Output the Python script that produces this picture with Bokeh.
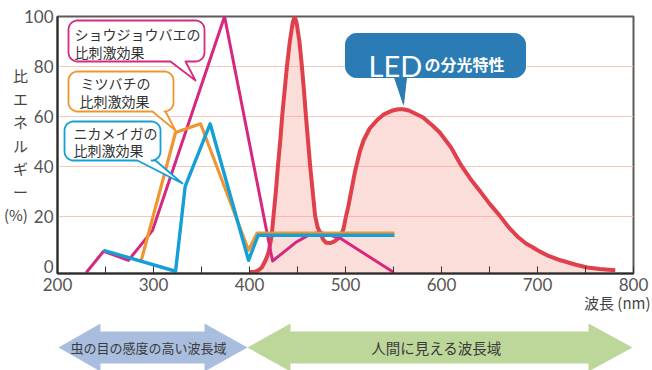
import numpy as np
from bokeh.plotting import figure
from bokeh.models import Range1d, FixedTicker, Label, Title
from bokeh.layouts import column
from bokeh.embed import file_html
from bokeh.resources import INLINE

# ---------------- data ----------------
led_x = [400, 406, 410, 413, 417, 420, 423, 425, 427.5, 429.6, 432, 434, 436.5, 439, 442, 445, 447,
         449, 452, 454.6, 456.8, 458.8, 461, 463.2, 465.8, 468.4, 471, 474, 477, 480, 484, 488, 492,
         495, 498, 500, 503, 506, 510, 515, 519, 525, 533, 540, 548, 555, 560, 566, 573, 580.5, 590,
         598, 610, 620.5, 630, 639.6, 650, 660.4, 670, 680, 688, 695, 700, 710, 724, 740, 752, 765, 781]
led_y = [-2.5, -2.3, -1.5, -0.5, 2.5, 5.6, 12, 20, 30, 40, 50, 60, 70, 80, 90, 97.5, 100,
         97.5, 90, 80, 70, 60, 50, 40, 30, 20, 15.5, 13, 10.5, 9.3, 9.2, 9.8, 11,
         12, 15, 19, 24, 30, 38, 46, 50.5, 55, 58.5, 60.8, 62.2, 62.8, 62.8, 62.3, 61, 59.6, 56.5,
         53.6, 47.5, 40.3, 35, 30.3, 25, 20.3, 15.5, 11.5, 9, 7.5, 6.3, 4.3, 2.3, 0.5, -0.6, -1.2, -1.7]

fly_x = [230, 248, 274, 299, 374, 424, 448, 463, 474, 495, 550]
fly_y = [-2.6, 5.9, 2.3, 14.3, 100, 2, 9.4, 12.7, 13.5, 11, -2.5]

bee_x = [287, 323, 349, 399, 408, 551]
bee_y = [1.9, 53.5, 57, 6.3, 13.2, 13.2]

moth_x = [248, 323, 333, 359, 399, 409, 551]
moth_y = [6.3, -2.1, 31.9, 57, 2.3, 12.3, 12.3]

y_ticks = [0, 20, 40, 60, 80, 100]
x_ticks = [200, 300, 400, 500, 600, 700, 800]
x_minor = [250, 350, 450, 550, 650, 750]

# ---------------- geometry helpers (picture px -> data) ----------------
W, H1 = 652, 323
H2 = 370 - H1
FL, FR, FT, FB = 57, 633, 16, 273   # frame edges in the picture
XMIN, XMAX, YMIN, YMAX = 200, 800, -3, 100

def px2x(px):
    return XMIN + (px - FL) * (XMAX - XMIN) / (FR - FL)

def py2y(py):
    return YMAX - (py - FT) * (YMAX - YMIN) / (FB - FT)

def bubble_pts(x0, y0, x1, y1, r, tail, n=8):
    bx0, bx1, tx, ty = tail
    pts = []
    def arc(cx, cy, a0, a1):
        for a in np.linspace(np.radians(a0), np.radians(a1), n):
            pts.append((cx + r * np.cos(a), cy + r * np.sin(a)))
    arc(x1 - r, y0 + r, -90, 0)
    arc(x1 - r, y1 - r, 0, 90)
    pts += [(bx1, y1), (tx, ty), (bx0, y1)]
    arc(x0 + r, y1 - r, 90, 180)
    arc(x0 + r, y0 + r, 180, 270)
    pts.append(pts[0])
    return [p[0] for p in pts], [p[1] for p in pts]

CJK = "Noto Sans CJK JP"

# ---------------- main figure ----------------
p = figure(width=W, height=H1, x_range=Range1d(XMIN, XMAX), y_range=Range1d(YMIN, YMAX),
           output_backend="svg", toolbar_location=None,
           min_border_left=FL, min_border_right=W - FR, min_border_top=FT,
           min_border_bottom=H1 - FB)
p.background_fill_color = "white"
p.border_fill_color = "white"
p.outline_line_color = "#5e5a58"
p.outline_line_width = 2

p.xgrid.visible = False
p.ygrid.ticker = FixedTicker(ticks=[20, 40, 60, 80])
p.ygrid.grid_line_color = "#f4c9bd"
p.ygrid.grid_line_width = 1

p.xaxis.ticker = FixedTicker(ticks=x_ticks, minor_ticks=x_minor)
p.xaxis.major_tick_in = 7
p.xaxis.major_tick_out = 0
p.xaxis.minor_tick_in = 7
p.xaxis.minor_tick_out = 0
p.xaxis.major_tick_line_color = "#333333"
p.xaxis.minor_tick_line_color = "#333333"
p.xaxis.major_label_standoff = 4

p.yaxis.ticker = FixedTicker(ticks=y_ticks)
p.yaxis.major_tick_in = 0
p.yaxis.major_tick_out = 0
p.yaxis.minor_tick_line_color = None
p.yaxis.major_label_standoff = 4
p.yaxis.axis_label = "比\nエ\nネ\nル\nギ\nー\n(%)"
p.yaxis.axis_label_orientation = "horizontal"
p.yaxis.axis_label_standoff = -7
p.yaxis.axis_label_text_font = CJK
p.yaxis.axis_label_text_font_size = "15px"
p.yaxis.axis_label_text_font_style = "normal"
p.yaxis.axis_label_text_color = "#444444"
p.yaxis.axis_label_text_line_height = 1.1

for ax in (p.xaxis, p.yaxis):
    ax.axis_line_color = "#2a2a2a"
    ax.axis_line_width = 2
    ax.major_label_text_font = "Lato"
    ax.major_label_text_font_size = "17px"
    ax.major_label_text_color = "#555555"

# x axis title, right-aligned under the axis end
p.add_layout(Title(text="波長 (nm)", align="right", offset=-17, standoff=-8,
                   text_font=CJK, text_font_size="15px", text_font_style="normal",
                   text_color="#444444"), "below")

# LED spectrum
p.varea(x=led_x, y1=[YMIN] * len(led_x), y2=led_y, fill_color="#f29a90", fill_alpha=0.33)
p.line(led_x, led_y, line_color="#e0404c", line_width=4, line_join="round")

# insect sensitivities
p.line(fly_x, fly_y, line_color="#d6287f", line_width=3, line_join="round")
p.line(bee_x, bee_y, line_color="#f0952f", line_width=3.2, line_join="round")
p.line(moth_x, moth_y, line_color="#14a0d6", line_width=3.4, line_join="round")

# callout bubbles (picture px)
bubbles = [
    ((68, 20, 204, 61, 9, (170, 185, 195, 80)), "#d6287f",
     [("ショウジョウバエの", 74, 33), ("比刺激効果", 74, 51)]),
    ((68, 71, 173, 111, 9, (152, 165, 175, 130)), "#f0952f",
     [("ミツバチの", 80, 82), ("比刺激効果", 79, 100)]),
    ((64, 121, 160, 160, 9, (137, 155, 182, 183)), "#14a0d6",
     [("ニカメイガの", 73, 132), ("比刺激効果", 73, 149)]),
]
for (x0, y0, x1, y1, r, tail), col, lines in bubbles:
    bx, by = bubble_pts(x0, y0, x1, y1, r, tail)
    p.patch([px2x(v) for v in bx], [py2y(v) for v in by], fill_color="white",
            line_color=col, line_width=1.8, line_join="round")
    for txt, tx, ty in lines:
        p.add_layout(Label(x=px2x(tx), y=py2y(ty), text=txt, text_font=CJK, text_font_size="14px",
                           text_color="#333333", text_align="left", text_baseline="middle"))

# LED bubble
bx, by = bubble_pts(345, 33, 525, 77, 11, (394, 406, 403, 104))
p.patch([px2x(v) for v in bx], [py2y(v) for v in by], fill_color="#2b7bb5",
        line_color="#2b7bb5", line_width=1)
p.add_layout(Label(x=px2x(368), y=py2y(65), text="LED", text_font="Lato", text_font_size="29px",
                   text_color="white", text_align="left", text_baseline="alphabetic"))
p.add_layout(Label(x=px2x(424), y=py2y(63), text="の分光特性", text_font=CJK, text_font_size="16px",
                   text_font_style="bold", text_color="white", text_align="left",
                   text_baseline="alphabetic"))

# ---------------- band arrows figure ----------------
q = figure(width=W, height=H2, x_range=Range1d(FL, FR), y_range=Range1d(H1 + H2, H1),
           output_backend="svg", toolbar_location=None,
           x_axis_location=None, y_axis_location=None,
           min_border_left=FL, min_border_right=W - FR, min_border_top=0, min_border_bottom=0)
q.grid.visible = False
q.outline_line_color = None
q.background_fill_color = "white"
q.border_fill_color = "white"

def double_arrow(xa, xb, ha, hb, cy=347, hh=24, bh=16):
    xs = [xa, ha, ha, hb, hb, xb, hb, hb, ha, ha]
    ys = [cy, cy - hh, cy - bh, cy - bh, cy - hh, cy, cy + hh, cy + bh, cy + bh, cy + hh]
    return xs, ys

xs, ys = double_arrow(58, 247, 100, 204)
q.patch(xs, ys, fill_color="#a9bedf", line_color=None)
xs, ys = double_arrow(247, 632, 290, 588)
q.patch(xs, ys, fill_color="#bdd699", line_color=None)
q.add_layout(Label(x=148, y=347, text="虫の目の感度の高い波長域", text_font=CJK, text_font_size="13px",
                   text_color="#3a3a3a", text_align="center", text_baseline="middle"))
q.add_layout(Label(x=436, y=347, text="人間に見える波長域", text_font=CJK, text_font_size="14.5px",
                   text_color="#3a3a3a", text_align="center", text_baseline="middle"))

layout = column(p, q, spacing=0)
open("out.html", "w").write(file_html(layout, INLINE))
